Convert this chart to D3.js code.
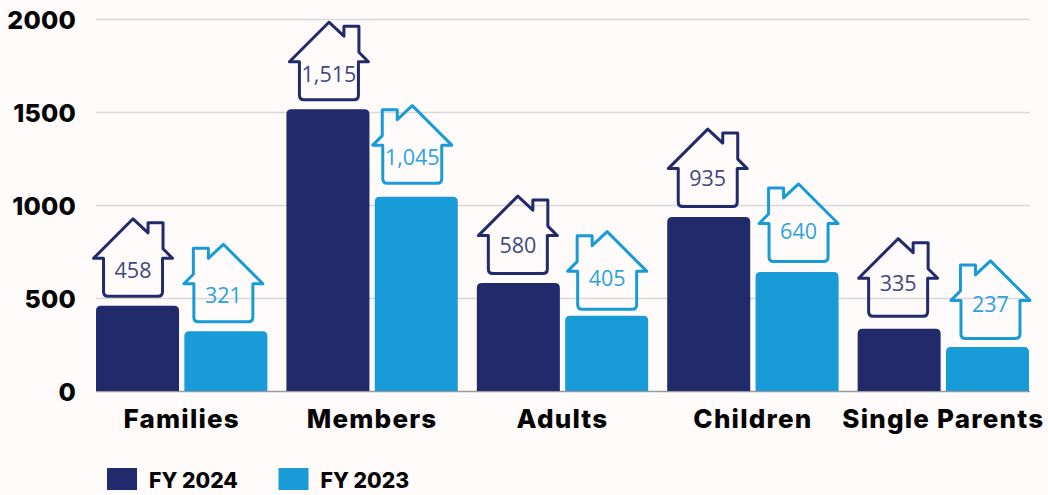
<!DOCTYPE html>
<html><head><meta charset="utf-8">
<script src="https://cdn.jsdelivr.net/npm/d3@7"></script>
<style>
html,body{margin:0;padding:0;background:#fffbfb;overflow:hidden}
svg{display:block}
.b{font-family:Inter,"Open Sans",sans-serif;font-weight:800;fill:#050505}
.v{font-family:"Open Sans",sans-serif;font-weight:400}
</style></head><body>
<svg id="c" width="1048" height="495"></svg>
<script>
const categories=["Families","Members","Adults","Children","Single Parents"];
const seriesNames=["FY 2024","FY 2023"];
const fy2024=[458,1515,580,935,335];
const fy2023=[321,1045,405,640,237];
const fy2024Labels=["458","1,515","580","935","335"];
const fy2023Labels=["321","1,045","405","640","237"];
const yTicks=[0,500,1000,1500,2000];
const colors=["#212b6b","#189bd7"];
const houseLift=[[8,8,8,9,11],[8,12,5,9,7]];
const houseShift=[[-4.5,1,-0.5,-1,-1],[-2.5,-4,0.5,1.5,3]];
const labelLift=[[20,19,22,22,27],[20,20,25,24,28]];

const svg=d3.select("#c");
const x=d3.scaleBand().domain(categories).range([86.5,1038.5]).paddingInner(0.1).paddingOuter(0.05);
const x1=d3.scaleBand().domain(seriesNames).range([0,x.bandwidth()]).paddingInner(0.06);
const y=d3.scaleLinear().domain([0,2000]).range([391,19]);

const grid=svg.append("g")
 .call(d3.axisLeft(y).tickValues(yTicks).tickSize(0).tickFormat(d=>d));
grid.select(".domain").remove();
grid.selectAll("text").remove();
grid.selectAll("g.tick").append("line").attr("x1",96).attr("x2",1030).attr("stroke",d=>d===0?"#9a9a9a":"#d9d7d7").attr("stroke-width",1.5);
grid.selectAll("g.tick").append("text").attr("class","b").attr("x",76).attr("dy","0.36em").attr("text-anchor","end").style("font-size","25px").style("letter-spacing","0.2px").text(d=>d);

function housePath(m){
 const X=v=>v*m;
 return `M${X(0)},-79L${X(15)},-65V-75H${X(30)}V-49L${X(39.5)},-39.5H${X(29.5)}V-6Q${X(29.5)},-1.5 ${X(25)},-1.5H${X(-25)}Q${X(-29.5)},-1.5 ${X(-29.5)},-6V-39.5H${X(-39.5)}Z`;
}
[fy2024,fy2023].forEach((vals,s)=>{
 const g=svg.append("g");
 const name=seriesNames[s];
 const labels=s===0?fy2024Labels:fy2023Labels;
 g.selectAll("path.bar").data(vals).join("path").attr("class","bar").attr("fill",colors[s])
  .attr("d",(d,i)=>{
    const x0=x(categories[i])+x1(name),w=x1.bandwidth(),t=y(d),b=y(0),r=5;
    return `M${x0},${b}V${t+r}Q${x0},${t} ${x0+r},${t}H${x0+w-r}Q${x0+w},${t} ${x0+w},${t+r}V${b}Z`;
  });
 const hc=i=>x(categories[i])+x1(name)+x1.bandwidth()/2+houseShift[s][i];
 const hb=(d,i)=>y(d)-houseLift[s][i];
 g.selectAll("path.h").data(vals).join("path").attr("class","h")
  .attr("d",housePath(s===0?1:-1))
  .attr("transform",(d,i)=>`translate(${hc(i)},${hb(d,i)})`)
  .attr("fill","none").attr("stroke",colors[s]).attr("stroke-width",3).attr("stroke-linejoin","round");
 g.selectAll("text").data(vals).join("text").attr("class","v")
  .attr("x",(d,i)=>hc(i)).attr("y",(d,i)=>hb(d,i)-labelLift[s][i])
  .attr("text-anchor","middle").style("font-size","21.5px")
  .attr("fill",s===0?"#3f4880":"#2ba4dc")
  .text((d,i)=>labels[i]);
});
svg.append("g").selectAll("text").data(categories).join("text").attr("class","b")
 .attr("x",d=>x(d)+x.bandwidth()/2).attr("y",428).attr("text-anchor","middle")
 .style("font-size","26px").style("letter-spacing","1.2px").text(d=>d);
const lg=svg.append("g").selectAll("g").data(seriesNames).join("g")
 .attr("transform",(d,i)=>`translate(${107+i*171.5},468)`);
lg.append("rect").attr("width",30).attr("height",22).attr("fill",(d,i)=>colors[i]);
lg.append("text").attr("class","b").attr("x",42).attr("y",20).style("font-size","21.2px").text(d=>d);
</script></body></html>
